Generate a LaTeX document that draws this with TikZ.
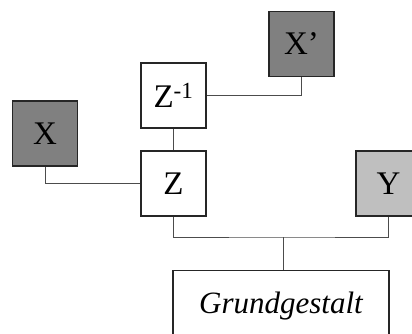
\documentclass[tikz,border=0pt]{standalone}
\usepackage{fontspec}
\setmainfont{Liberation Serif}
\tikzset{
  x=1pt,y=-1pt,
  box/.style={draw=black!85,line width=1.4pt,minimum width=65pt,minimum height=65pt,inner sep=0pt,font=\fontsize{33}{36}\selectfont},
  dark/.style={box,fill=black!50},
  light/.style={box,fill=black!25},
  conn/.style={draw=black!70,line width=0.9pt}
}
\begin{document}
\begin{tikzpicture}
\useasboundingbox (0,0) rectangle (412,334);
\node[dark] (xp) at (301.5,44) {X’};
\node[box,fill=white] (zi) at (173.5,95.5) {Z\textsuperscript{-1}};
\node[dark] (x) at (45,133.5) {X};
\node[box,fill=white] (z) at (173.5,183.5) {Z};
\node[light] (y) at (388.5,183.5) {Y};
\node[draw=black!85,line width=1.4pt,minimum width=216pt,minimum height=70pt,inner sep=0pt,anchor=north,font=\fontsize{31}{34}\selectfont\itshape] (g) at (281,270) {Grundgestalt};
\coordinate (j) at (283,237);
\draw[conn] (xp.south) |- (zi.east);
\draw[conn] (zi.south) -- (z.north);
\draw[conn] (x.south) |- (z.west);
\draw[conn] (z.south) |- (j) -| (y.south);
\draw[conn] (j) -- (j |- g.north);
\end{tikzpicture}
\end{document}
